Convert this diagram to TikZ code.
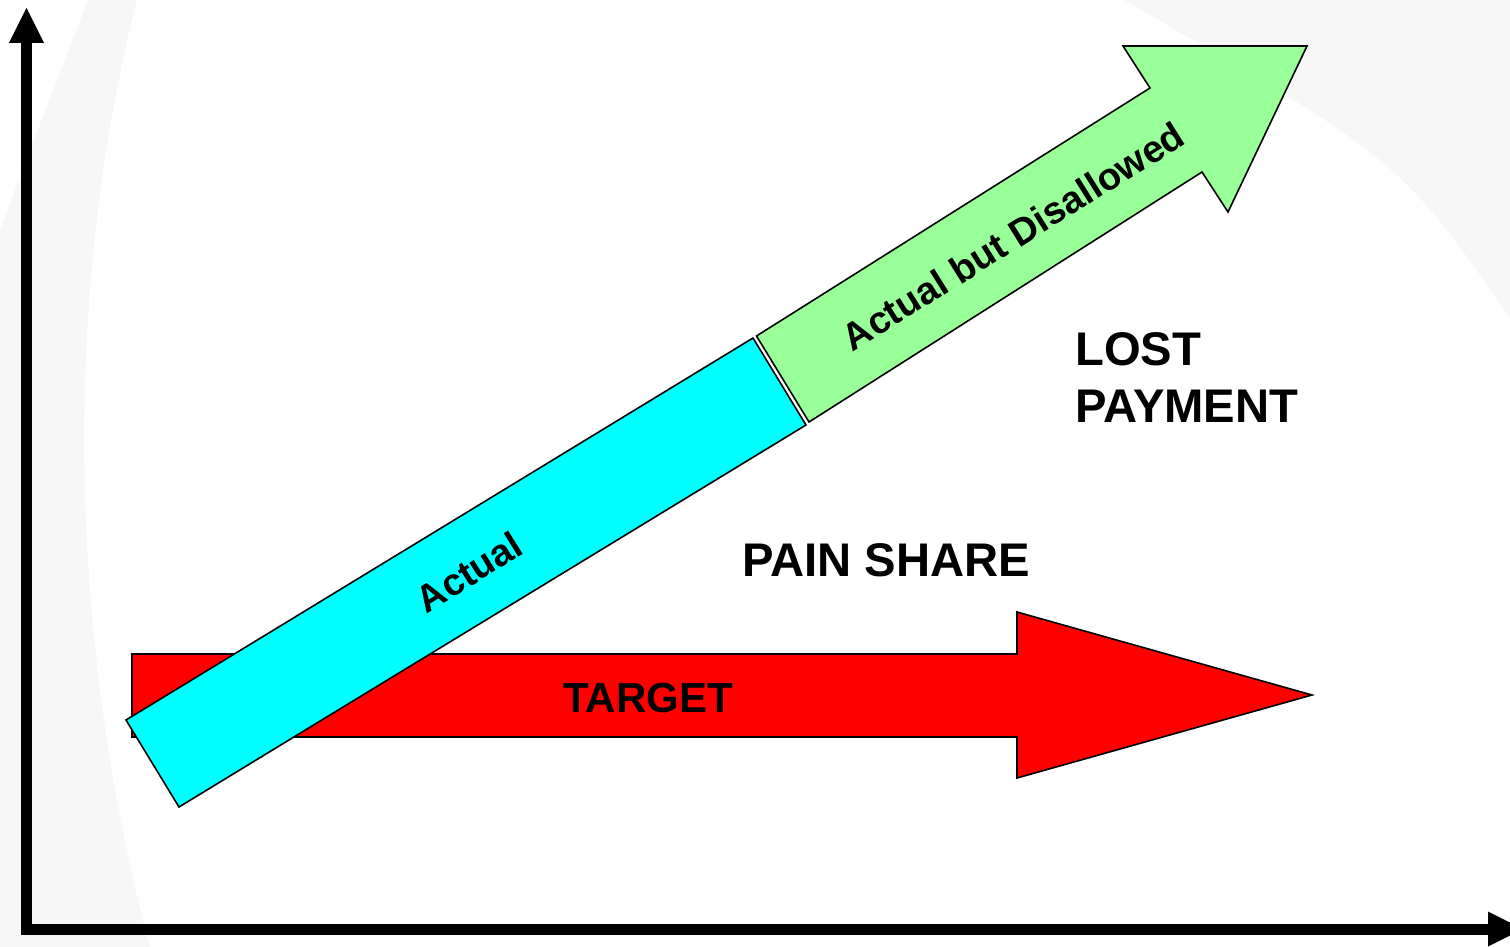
\documentclass[tikz,border=0pt]{standalone}
\usepackage{fontspec}
\setmainfont{Liberation Sans}
\definecolor{bggray}{HTML}{F7F7F7}
\definecolor{cyanbar}{HTML}{00FFFF}
\definecolor{greenbar}{HTML}{99FF99}
\definecolor{redbar}{HTML}{FF0000}
\begin{document}
\begin{tikzpicture}[x=0.5pt,y=-0.5pt,
  shapeline/.style={draw=black,line width=0.8pt,line join=miter},
  axisline/.style={line width=5.5pt},
  axishead/.style={fill=black},
  bigtxt/.style={font=\bfseries\fontsize{23.6}{28}\selectfont,inner sep=0pt},
  tgttxt/.style={font=\bfseries\fontsize{21}{25}\selectfont,inner sep=0pt},
  bartxt/.style={font=\bfseries\fontsize{19}{23}\selectfont,inner sep=0pt,rotate=32}]
\useasboundingbox (0,0) rectangle (1510,947);
% faint background swooshes
\fill[bggray] (88,0) -- (137,0) .. controls (60,300) and (70,650) .. (150,947)
  -- (0,947) -- (0,230) .. controls (30,150) .. (88,0) -- cycle;
\fill[bggray] (1124,0) -- (1510,0) -- (1510,318) .. controls (1400,160) .. (1124,0) -- cycle;
% axes
\coordinate (vbot) at (26.5,929);
\coordinate (vtop) at (26.5,42);
\coordinate (hleft) at (21,929);
\coordinate (hright) at (1489,929);
\draw[axisline] (vbot) -- (vtop);
\fill[axishead] (9,43) -- (26.5,8) -- (44,43) -- cycle;
\draw[axisline] (hleft) -- (hright);
\fill[axishead] (1488,911.5) -- (1523,929) -- (1488,946.5) -- cycle;
% red target arrow
\filldraw[shapeline,fill=redbar] (132,654) -- (1017,654) -- (1017,612) -- (1312,695)
  -- (1017,778) -- (1017,737) -- (132,737) -- cycle;
% cyan actual bar
\filldraw[shapeline,fill=cyanbar] (126,720) -- (753,338) -- (806,425) -- (179,807) -- cycle;
% green arrow
\filldraw[shapeline,fill=greenbar] (756.5,336) -- (1150,88) -- (1123,46) -- (1307,46)
  -- (1228,212) -- (1202,172) -- (809,422) -- cycle;
% texts
\node[bartxt] (actual) at (469,572) {Actual};
\node[bartxt] (disallowed) at (1013,236) {Actual but Disallowed};
\node[bigtxt,anchor=base west] (lost) at (1075,365) {LOST};
\node[bigtxt,anchor=base west] (payment) at (1075,422) {PAYMENT};
\node[bigtxt,anchor=base west] (pain) at (742,576) {PAIN SHARE};
\node[tgttxt,anchor=base west] (target) at (563,712) {TARGET};
\end{tikzpicture}
\end{document}
